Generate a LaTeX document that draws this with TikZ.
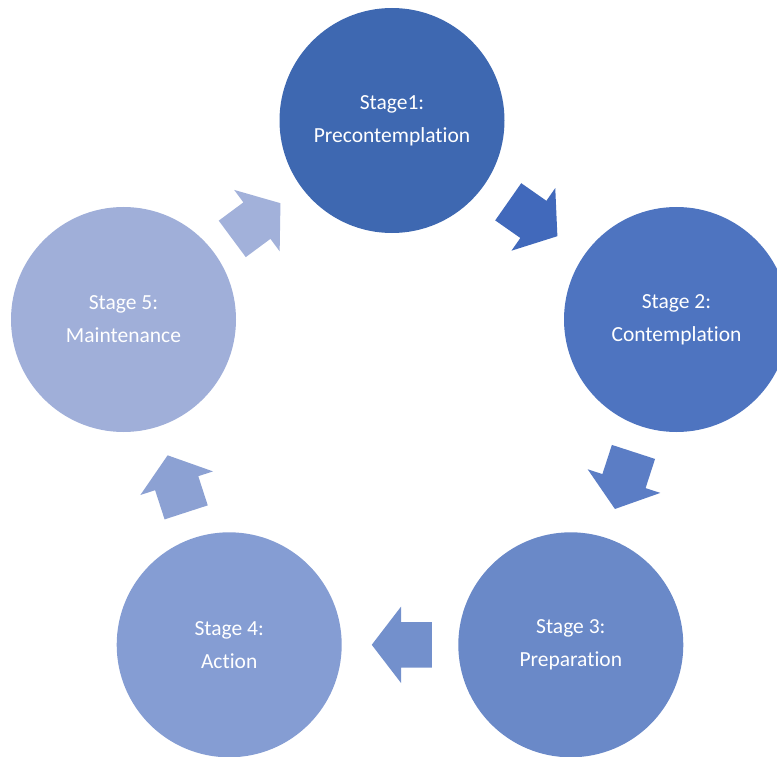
\documentclass[tikz,border=0pt]{standalone}
\usepackage{fontspec}
\setmainfont{Carlito}[Ligatures=NoCommon]
\usetikzlibrary{shapes.arrows}

\definecolor{stageone}{HTML}{3E68B1}
\definecolor{stagetwo}{HTML}{4E74C0}
\definecolor{stagethree}{HTML}{6A89C8}
\definecolor{stagefour}{HTML}{859DD3}
\definecolor{stagefive}{HTML}{A0AFD9}
\definecolor{flowone}{HTML}{4169BB}
\definecolor{flowtwo}{HTML}{5B7DC5}
\definecolor{flowthree}{HTML}{7390CC}
\definecolor{flowfour}{HTML}{8CA1D3}
\definecolor{flowfive}{HTML}{A2B1DA}

\begin{document}
\begin{tikzpicture}[
    x=1pt, y=-1pt,
    stage/.style={circle, minimum size=225pt, inner sep=0pt, align=center, text=white, font=\fontsize{21.5}{33}\selectfont},
    flow/.style={single arrow, draw=none, minimum height=60pt, minimum width=76pt, inner xsep=0pt, inner ysep=22.5pt,
      single arrow head extend=15.5pt, single arrow tip angle=105, sloped, allow upside down}
  ]
    \useasboundingbox (0,0) rectangle (777,757);

    \node[stage, fill=stageone] (s1) at (392,120.5) {Stage1:\\Precontemplation};
    \node[stage, fill=stagetwo] (s2) at (676.5,319.5) {Stage 2:\\Contemplation};
    \node[stage, fill=stagethree] (s3) at (570.8,644.8) {Stage 3:\\Preparation};
    \node[stage, fill=stagefour] (s4) at (229.2,644.8) {Stage 4:\\Action};
    \node[stage, fill=stagefive] (s5) at (123.5,319.5) {Stage 5:\\Maintenance};

    % arrow centre sits a little behind the node centre of a single arrow
    \path (s1) -- node[flow, fill=flowone, pos=.414] (f12) {} (s2);
    \path (s2) -- node[flow, fill=flowtwo, pos=.41] (f23) {} (s3);
    \path (s3) -- node[flow, fill=flowthree, pos=.41] (f34) {} (s4);
    \path (s4) -- node[flow, fill=flowfour, pos=.41] (f45) {} (s5);
    \path (s5) -- node[flow, fill=flowfive, pos=.404] (f51) {} (s1);
  \end{tikzpicture}
\end{document}
